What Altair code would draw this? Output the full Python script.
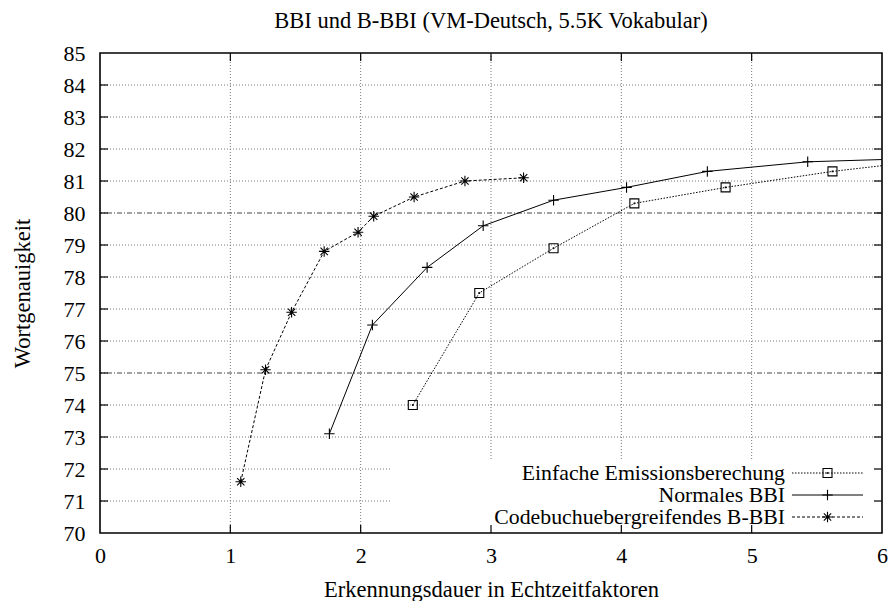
import altair as alt
import pandas as pd

# ---- data ----
x_einfach = [2.40, 2.91, 3.48, 4.10, 4.80, 5.62, 6.30]
y_einfach = [74.0, 77.5, 78.9, 80.3, 80.8, 81.3, 81.62]
x_normal = [1.76, 2.09, 2.51, 2.94, 3.48, 4.04, 4.66, 5.43, 6.40]
y_normal = [73.1, 76.5, 78.3, 79.6, 80.4, 80.8, 81.3, 81.6, 81.72]
x_code = [1.08, 1.27, 1.47, 1.72, 1.98, 2.10, 2.41, 2.80, 3.25]
y_code = [71.6, 75.1, 76.9, 78.8, 79.4, 79.9, 80.5, 81.0, 81.1]

series_names = ["Einfache Emissionsberechung", "Normales BBI", "Codebuchuebergreifendes B-BBI"]
title_text = "BBI und B-BBI (VM-Deutsch, 5.5K Vokabular)"
x_title = "Erkennungsdauer in Echtzeitfaktoren"
y_title = "Wortgenauigkeit"
x_ticks = [0, 1, 2, 3, 4, 5, 6]
y_ticks = list(range(70, 86))
y_major_grid = [75, 80]

# ---- layout / style ----
W, H = 782, 480
PAD_L = 92
FONT = "Liberation Serif"
FS = 22
FS_TEXT = 22.5
FS_LEG = 21.8
PLUS = "M-1,0L1,0M0,-1L0,1"
STAR = "M-1,0L1,0M0,-1L0,1M-0.7,-0.7L0.7,0.7M-0.7,0.7L0.7,-0.7"

xscale = alt.Scale(domain=[0, 6], nice=False, zero=False)
yscale = alt.Scale(domain=[70, 85], nice=False, zero=False)
xaxis = alt.Axis(values=x_ticks, format="d", title=x_title, grid=False, ticks=False,
                 domain=False, labelPadding=12, labelFlush=False,
                 titleBaseline="middle", titleY=56)
yaxis = alt.Axis(values=y_ticks, format="d", title=y_title, grid=False, ticks=False,
                 domain=False, labelPadding=15, labelFlush=False,
                 titleBaseline="middle", titleX=-78)

def X():
    return alt.X("x:Q", scale=xscale, axis=xaxis, title=x_title)

def Y():
    return alt.Y("y:Q", scale=yscale, axis=yaxis, title=y_title)

df_e = pd.DataFrame({"x": x_einfach, "y": y_einfach})
df_n = pd.DataFrame({"x": x_normal, "y": y_normal})
df_c = pd.DataFrame({"x": x_code, "y": y_code})

minor_h = [v for v in y_ticks[1:-1] if v not in y_major_grid]
df_hgrid = pd.DataFrame({"y": minor_h})
df_hmajor = pd.DataFrame({"y": y_major_grid})
df_vgrid = pd.DataFrame({"x": x_ticks[1:-1]})
df_yt = pd.DataFrame({"y": y_ticks[1:-1]})
df_xt = pd.DataFrame({"x": x_ticks[1:-1]})
df_title = pd.DataFrame({"t": [title_text]})

layers = []
# grid
layers.append(alt.Chart(df_hgrid).mark_rule(color="#777", strokeDash=[1, 2], strokeWidth=1)
              .encode(y=Y()))
layers.append(alt.Chart(df_vgrid).mark_rule(color="#777", strokeDash=[1, 2], strokeWidth=1)
              .encode(x=X()))
layers.append(alt.Chart(df_hmajor).mark_rule(color="#444", strokeDash=[5, 2, 1, 2], strokeWidth=1)
              .encode(y=Y()))
# mask behind legend
layers.append(alt.Chart(df_hmajor.head(1)).mark_rect(color="white", opacity=1)
              .encode(x=alt.value(290), x2=alt.value(W - 2), y=alt.value(407), y2=alt.value(H - 1)))
# inward ticks
tick_len = 8
layers.append(alt.Chart(df_yt).mark_rule(color="black", strokeWidth=1.2)
              .encode(y=Y(), x=alt.value(0), x2=alt.value(tick_len)))
layers.append(alt.Chart(df_yt).mark_rule(color="black", strokeWidth=1.2)
              .encode(y=Y(), x=alt.value(W - tick_len), x2=alt.value(W)))
layers.append(alt.Chart(df_xt).mark_rule(color="black", strokeWidth=1.2)
              .encode(x=X(), y=alt.value(H - tick_len), y2=alt.value(H)))
layers.append(alt.Chart(df_xt).mark_rule(color="black", strokeWidth=1.2)
              .encode(x=X(), y=alt.value(0), y2=alt.value(tick_len)))

# series
styles = [
    (df_e, [1.5, 1.5], "square"),
    (df_n, None, PLUS),
    (df_c, [3, 2], STAR),
]
for df, dash, shape in styles:
    lk = dict(color="black", strokeWidth=1, clip=True)
    if dash:
        lk["strokeDash"] = dash
    layers.append(alt.Chart(df).mark_line(**lk).encode(x=X(), y=Y()))
    size = 81 if shape == "square" else 110
    layers.append(alt.Chart(df).mark_point(shape=shape, filled=False, size=size, color="black",
                                           strokeWidth=1.1, opacity=1, clip=True)
                  .encode(x=X(), y=Y()))
    if shape == "square":
        layers.append(alt.Chart(df).mark_point(shape="square", filled=True, size=3, color="black",
                                               opacity=1, clip=True)
                      .encode(x=X(), y=Y()))

# legend (manual)
leg_text_x = 685
leg_line_x1, leg_line_x2 = 692, 763
leg_mark_x = (leg_line_x1 + leg_line_x2) / 2
leg_row0, leg_gap = 420, 22
df_leg = pd.DataFrame({"name": series_names})
for i, (name, (df, dash, shape)) in enumerate(zip(series_names, styles)):
    row = df_leg.iloc[[i]]
    ypix = leg_row0 + i * leg_gap
    layers.append(alt.Chart(row).mark_text(align="right", baseline="middle", font=FONT,
                                           fontSize=FS_LEG, color="black")
                  .encode(text="name:N", x=alt.value(leg_text_x), y=alt.value(ypix)))
    rk = dict(color="black", strokeWidth=1)
    if dash:
        rk["strokeDash"] = dash
    layers.append(alt.Chart(row).mark_rule(**rk)
                  .encode(x=alt.value(leg_line_x1), x2=alt.value(leg_line_x2), y=alt.value(ypix)))
    size = 81 if shape == "square" else 110
    layers.append(alt.Chart(row).mark_point(shape=shape, filled=False, size=size, color="black",
                                            strokeWidth=1.1, opacity=1)
                  .encode(x=alt.value(leg_mark_x), y=alt.value(ypix)))
    if shape == "square":
        layers.append(alt.Chart(row).mark_point(shape="square", filled=True, size=3, color="black",
                                                opacity=1)
                      .encode(x=alt.value(leg_mark_x), y=alt.value(ypix)))

# title as text above the plot
layers.append(alt.Chart(df_title).mark_text(align="center", baseline="middle", font=FONT,
                                            fontSize=FS_TEXT, color="black")
              .encode(text="t:N", x=alt.value(W / 2), y=alt.value(-32)))

chart = alt.layer(*layers).properties(
    width=W, height=H,
    autosize=alt.AutoSizeParams(type="none"),
    padding={"left": PAD_L, "top": 45, "right": 6, "bottom": 68},
    background="white",
).configure_view(
    stroke="black", strokeWidth=1.6
).configure_axis(
    labelFont=FONT, labelFontSize=FS, labelColor="black",
    titleFont=FONT, titleFontSize=FS_TEXT, titleFontWeight="normal", titleColor="black",
)

chart.save("out.html", embed_options={"renderer": "svg", "actions": False})
